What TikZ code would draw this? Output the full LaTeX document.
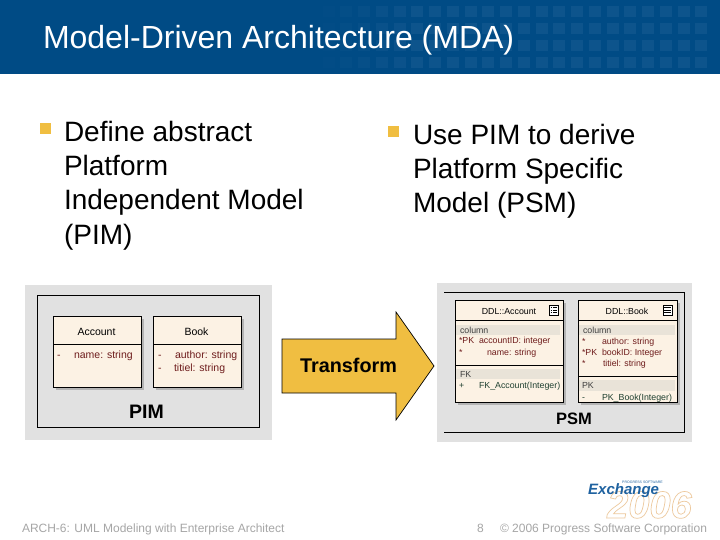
\documentclass[tikz,border=0pt]{standalone}
\usepackage{fontspec}
\setmainfont{Liberation Sans}
\definecolor{headblue}{HTML}{004B85}
\definecolor{sqblue}{HTML}{1F6096}
\definecolor{gold}{HTML}{F0BE41}
\definecolor{panelgrey}{HTML}{E1E1E1}
\definecolor{umlfill}{HTML}{FCF2E4}
\definecolor{umlband}{HTML}{E9E3D8}
\definecolor{umlshadow}{HTML}{B4B4B4}
\definecolor{attrred}{HTML}{6E1C1C}
\definecolor{opgreen}{HTML}{1F4030}
\definecolor{footgrey}{HTML}{A6A6A6}
\definecolor{logoblue}{HTML}{1F62A0}
\newcommand{\outl}[1]{\special{pdf:code q 1 Tr 0.7 w 0.93 0.79 0.62 RG}#1\special{pdf:code Q}}
\tikzset{
  x=1pt,y=-1pt,
  txt/.style={anchor=base west,inner sep=0pt,outer sep=0pt},
  titletxt/.style={txt,text=white,font=\fontsize{32}{36}\selectfont},
  bodytxt/.style={txt,text=black,font=\fontsize{28}{30}\selectfont},
  foot/.style={txt,text=footgrey,font=\fontsize{12}{14}\selectfont},
  bulletsq/.style={fill=gold,draw=none},
  panel/.style={fill=panelgrey,draw=none},
  frameln/.style={draw=black,line width=0.8pt},
  umlbox/.style={fill=umlfill,draw=black,line width=0.8pt},
  shade/.style={fill=umlshadow,draw=none},
  divider/.style={draw=black,line width=0.7pt},
  band/.style={fill=umlband,draw=none},
  uname/.style={anchor=base,inner sep=0pt,text=black,font=\fontsize{10.5}{12}\selectfont},
  attr/.style={txt,text=attrred,font=\fontsize{10.5}{12}\selectfont},
  small/.style={txt,text=attrred,font=\fontsize{8.8}{10}\selectfont},
  smallblk/.style={txt,text=black!75,font=\fontsize{8.8}{10}\selectfont},
  smallop/.style={txt,text=opgreen,font=\fontsize{8.8}{10}\selectfont},
  bigl/.style={anchor=base,inner sep=0pt,text=black,font=\bfseries\fontsize{19.5}{22}\selectfont},
}
\begin{document}
\begin{tikzpicture}
\useasboundingbox (0,0) rectangle (720,540);
\fill[white] (0,0) rectangle (720,540);
% header
\fill[headblue] (0,0) rectangle (720,74);
\foreach \c [evaluate=\c as \ox using {min(1,max(0,(\c-17)/6))*0.45}, evaluate=\c as \xx using {\c*17.75+3}] in {18,...,39}{
  \foreach \yy in {6,23,40,57}{
    \fill[sqblue,opacity=\ox] (\xx,\yy) rectangle ++(12,11);
  }
}
\node[titletxt] (title) at (43,49) {Model-Driven Architecture (MDA)};
% bullets left
\fill[bulletsq] (40,123) rectangle (51,134);
\node[bodytxt] (l1) at (64,142) {Define abstract};
\node[bodytxt] (l2) at (64,176) {Platform};
\node[bodytxt] (l3) at (64,210) {Independent Model};
\node[bodytxt] (l4) at (64,244) {(PIM)};
% bullets right
\fill[bulletsq] (388,126) rectangle (399,137);
\node[bodytxt] (r1) at (413,145) {Use PIM to derive};
\node[bodytxt] (r2) at (413,179) {Platform Specific};
\node[bodytxt] (r3) at (413,213) {Model (PSM)};
% PIM panel
\fill[panel] (25,285) rectangle (272,440);
\draw[frameln] (37,295) rectangle (259,427);
\fill[shade] (56,319) rectangle (144,390);
\fill[shade] (156,319) rectangle (244,390);
\draw[umlbox] (53,316) rectangle (141,387);
\draw[divider] (53,344) -- (141,344);
\draw[umlbox] (153,316) rectangle (241,387);
\draw[divider] (153,344) -- (241,344);
\node[uname] (acc) at (96.5,335) {Account};
\node[uname] (bk) at (196.5,335) {Book};
\node[attr] (a0) at (57,358) {-};
\node[attr] (a1) at (74,358) {name: string};
\node[attr] (b0) at (158,358) {-};
\node[attr] (b1) at (175,358) {author: string};
\node[attr] (c0) at (158,371) {-};
\node[attr] (c1) at (174,371) {titiel: string};
\node[bigl] (pim) at (146.5,418) {PIM};
% Arrow
\draw[fill=gold,draw=black,line width=0.7pt] (282,339) -- (396,339) -- (396,312) -- (434,366) -- (396,420) -- (396,393) -- (282,393) -- cycle;
\node[anchor=base,inner sep=0pt,text=black,font=\bfseries\fontsize{19.8}{22}\selectfont] (tr) at (348.5,372.5) {Transform};
% PSM panel
\fill[panel] (437,283) rectangle (692,442);
\draw[frameln] (444,292) -- (684,292) -- (684,432) -- (444,432);
\fill[shade] (458,303) rectangle (566,405);
\fill[shade] (581,303) rectangle (680,405);
\draw[umlbox] (455,300) rectangle (563,402);
\fill[band] (456,325) rectangle (560,335);
\fill[band] (456,369) rectangle (560,379);
\draw[divider] (455,320) -- (563,320);
\draw[divider] (455,365) -- (563,365);
\draw[umlbox] (578,300) rectangle (677,402);
\fill[band] (579,325) rectangle (675,335);
\fill[band] (579,380) rectangle (675,391);
\draw[divider] (578,320) -- (677,320);
\draw[divider] (578,376) -- (677,376);
\node[uname,font=\fontsize{8.8}{10}\selectfont] (ddla) at (509,314) {DDL::Account};
\node[uname,font=\fontsize{8.8}{10}\selectfont] (ddlb) at (627,314) {DDL::Book};
% icons
\draw[line width=0.6pt,fill=white] (549,305) rectangle (558,315);
\foreach \yy in {307.5,310,312.5}{\draw[line width=0.5pt] (550.5,\yy) -- (551.5,\yy) (553,\yy) -- (557,\yy);}
\draw[line width=0.6pt,fill=white] (663,305) rectangle (672,315);
\foreach \yy in {307.5,310,312.5}{\draw[line width=0.7pt] (664,\yy) -- (671,\yy);}
% DDL Account text
\node[smallblk] (t1) at (460,333) {column};
\node[small] (t2) at (459,343.5) {*PK};
\node[small] (t3) at (479,343.5) {accountID: integer};
\node[small] (t4) at (459,355) {*};
\node[small] (t5) at (487,355) {name: string};
\node[smallblk] (t6) at (460,377) {FK};
\node[smallop] (t7) at (459,388.5) {+};
\node[smallop] (t8) at (479,388.5) {FK\_Account(Integer)};
% DDL Book text
\node[smallblk] (u1) at (583,333) {column};
\node[small] (u2) at (582,344) {*};
\node[small] (u3) at (602,344) {author: string};
\node[small] (u4) at (582,355) {*PK};
\node[small] (u5) at (602,355) {bookID: Integer};
\node[small] (u6) at (582,366) {*};
\node[small] (u7) at (603,366) {titiel: string};
\node[smallblk] (u8) at (582,388.5) {PK};
\node[smallop] (u9) at (582,400) {-};
\node[smallop] (u10) at (602,400) {PK\_Book(Integer)};
\node[bigl,font=\bfseries\fontsize{16.5}{18}\selectfont] (psm) at (574,424) {PSM};
% footer
\node[foot] (f1) at (22,532) {ARCH-6: UML Modeling with Enterprise Architect};
\node[foot] (f2) at (477,532) {8};
\node[foot] (f3) at (500,532) {© 2006 Progress Software Corporation};
% logo
\node[anchor=base west,inner sep=0pt,font=\bfseries\itshape\fontsize{38}{38}\selectfont] (y06) at (607,518) {\outl{2006}};
\node[anchor=base west,inner sep=0pt,text=logoblue,font=\bfseries\itshape\fontsize{15}{15}\selectfont] (exch) at (588,494) {Exchange};
\node[anchor=base west,inner sep=0pt,text=logoblue,font=\fontsize{3.5}{4}\selectfont] (prog) at (622,483.5) {PROGRESS SOFTWARE};
\end{tikzpicture}
\end{document}
